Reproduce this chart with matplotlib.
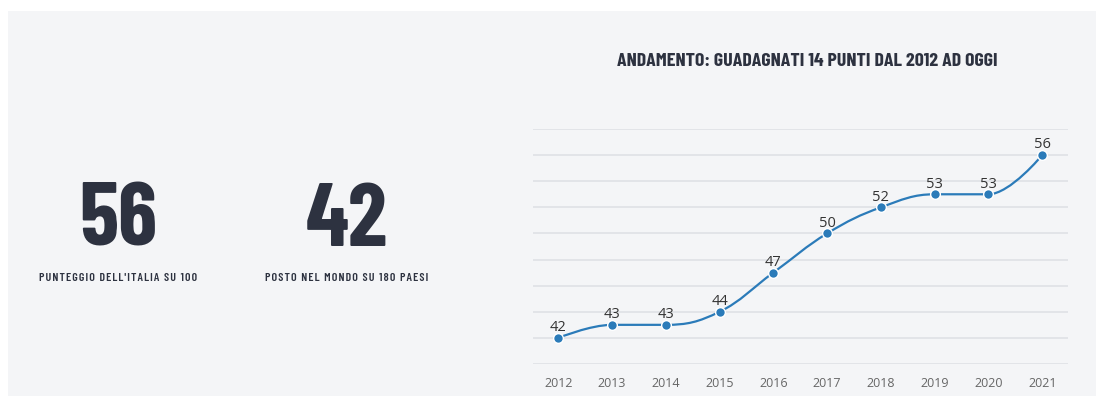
import matplotlib
matplotlib.use("Agg")
import matplotlib.pyplot as plt
from matplotlib.path import Path
from matplotlib.patches import PathPatch, Rectangle
import numpy as np

# data
years = ["2012", "2013", "2014", "2015", "2016", "2017", "2018", "2019", "2020", "2021"]
scores = [42, 43, 43, 44, 47, 50, 52, 53, 53, 56]
kpi_values = ["56", "42"]
kpi_labels = ["PUNTEGGIO DELL'ITALIA SU 100", "POSTO NEL MONDO SU 180 PAESI"]
title = "ANDAMENTO: GUADAGNATI 14 PUNTI DAL 2012 AD OGGI"

W, H = 1102, 403
bg = "#f4f5f7"
dark = "#2d3240"
blue = "#2b7bb9"

fig = plt.figure(figsize=(W / 100, H / 100), dpi=100)
fig.patch.set_facecolor("white")
fig.patches.append(Rectangle((8 / W, 1 - 396 / H), (1096 - 8) / W, (396 - 11) / H,
                             transform=fig.transFigure, facecolor=bg, edgecolor="none", zorder=-10))

cond = ["Barlow Condensed", "DejaVu Sans"]

# KPI blocks
kpi_x = [118, 347]
for x, v, lab in zip(kpi_x, kpi_values, kpi_labels):
    fig.text(x / W, 1 - 246 / H, v, ha="center", va="baseline", fontsize=64, fontweight=700,
             family=cond, color=dark)
    fig.text(x / W, 1 - 281 / H, "\u200a".join(lab), ha="center", va="baseline",
             fontsize=8.6, fontweight=600, family=cond, color=dark)

fig.text(807 / W, 1 - 66 / H, title, ha="center", va="baseline", fontsize=14.3, fontweight=700,
         family=cond, color=dark)

# line chart
ax = fig.add_axes([533 / W, 1 - 364 / H, (1068 - 533) / W, (364 - 129) / H])
ax.set_facecolor(bg)
xs = np.arange(len(years))
ax.set_xlim(-0.47, len(years) - 1 + 0.48)
ax.set_ylim(40, 58)
ax.set_yticks(np.arange(40, 59, 2))
ax.yaxis.grid(True, color="#dfe1e5", linewidth=1.2)
ax.set_axisbelow(True)
for s in ax.spines.values():
    s.set_visible(False)
ax.tick_params(axis="y", left=False, labelleft=False)
ax.tick_params(axis="x", bottom=False, colors="#666666", labelsize=9, pad=6)
ax.set_xticks(xs)
ax.set_xticklabels(years, family="Open Sans")

# spline path (highcharts-like smoothing)
sm, den = 1.5, 2.5
y = np.array(scores, dtype=float)
verts = [(xs[0], y[0])]
codes = [Path.MOVETO]
ctrl = []
for i in range(len(y)):
    if 0 < i < len(y) - 1:
        lx, ly = (sm * xs[i] + xs[i - 1]) / den, (sm * y[i] + y[i - 1]) / den
        rx, ry = (sm * xs[i] + xs[i + 1]) / den, (sm * y[i] + y[i + 1]) / den
        corr = (ry - ly) * (rx - xs[i]) / (rx - lx) + y[i] - ry
        ly += corr
        ry += corr
        if ly > max(y[i - 1], y[i]) or ly < min(y[i - 1], y[i]):
            ly = max(y[i - 1], y[i]) if ly > max(y[i - 1], y[i]) else min(y[i - 1], y[i])
            ry = 2 * y[i] - ly
        if ry > max(y[i + 1], y[i]) or ry < min(y[i + 1], y[i]):
            ry = max(y[i + 1], y[i]) if ry > max(y[i + 1], y[i]) else min(y[i + 1], y[i])
            ly = 2 * y[i] - ry
        ctrl.append(((lx, ly), (rx, ry)))
    else:
        ctrl.append(((xs[i], y[i]), (xs[i], y[i])))
for i in range(1, len(y)):
    verts += [ctrl[i - 1][1], ctrl[i][0], (xs[i], y[i])]
    codes += [Path.CURVE4] * 3
ax.add_patch(PathPatch(Path(verts, codes), facecolor="none", edgecolor=blue, linewidth=1.6, zorder=3))

ax.plot(xs, scores, linestyle="none", marker="o", markersize=7, markerfacecolor=blue,
        markeredgecolor="white", markeredgewidth=1, zorder=4)
for xi, v in zip(xs, scores):
    ax.annotate(str(v), (xi, v), xytext=(0, 2), textcoords="offset points", ha="center",
                va="bottom", fontsize=10.5, family="Open Sans", color="#333333", zorder=5)

fig.savefig("out.png", dpi=100, facecolor=fig.get_facecolor())
